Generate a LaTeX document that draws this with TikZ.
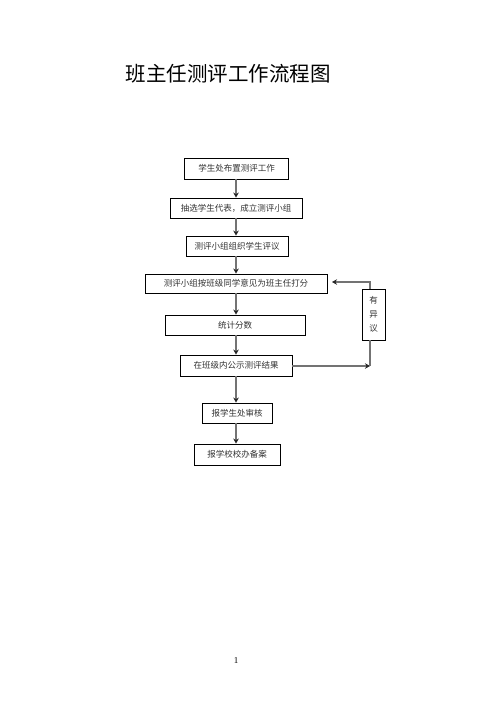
\documentclass[tikz,border=0pt]{standalone}
\usepackage{fontspec}
\setmainfont{Liberation Serif}
\newfontfamily\cjk{Noto Sans CJK SC}
\usetikzlibrary{arrows.meta}
\tikzset{
  box/.style={draw=black, line width=0.9pt, inner sep=0pt, font=\cjk\fontsize{8.5}{10}\selectfont, text=black!80},
  flow/.style={draw=black!55, line width=1.5pt, -{Stealth[length=5pt,width=5.5pt,color=black!85]}},
  plain/.style={draw=black!55, line width=1.5pt}
}
\begin{document}
\begin{tikzpicture}[x=1pt,y=-1pt]
\path[use as bounding box] (0,0) rectangle (496,702);
\fill[white] (0,0) rectangle (496,702);
\node[font=\cjk\fontsize{20.5}{24}\selectfont, anchor=center] (title) at (228,74) {班主任测评工作流程图};
\node[box, minimum width=104pt, minimum height=21pt] (b1) at (236.5,168.5) {学生处布置测评工作};
\node[box, minimum width=132pt, minimum height=20pt] (b2) at (236,208) {抽选学生代表，成立测评小组};
\node[box, minimum width=102pt, minimum height=20pt] (b3) at (237,246) {测评小组组织学生评议};
\node[box, minimum width=182pt, minimum height=19pt] (b4) at (236,283.5) {测评小组按班级同学意见为班主任打分};
\node[box, minimum width=140pt, minimum height=20pt] (b5) at (235,325) {统计分数};
\node[box, minimum width=112pt, minimum height=21pt] (b6) at (236,365.5) {在班级内公示测评结果};
\node[box, minimum width=23pt, minimum height=51pt, align=center, font=\cjk\fontsize{8.5}{14}\selectfont] (b7) at (373.5,314.5) {有\\异\\议};
\node[box, minimum width=70pt, minimum height=20pt] (b8) at (237,413) {报学生处审核};
\node[box, minimum width=86pt, minimum height=21pt] (b9) at (237,454.5) {报学校校办备案};
\node[font=\fontsize{9}{10}\selectfont] (pg) at (236,661) {1};
\coordinate (c1) at (370,366);
\coordinate (c2) at (370,282);
\coordinate (c3) at (332,282);
\draw[flow] (b1.south -| 236,0) -- (b2.north -| 236,0);
\draw[flow] (b2.south -| 236,0) -- (b3.north -| 236,0);
\draw[flow] (b3.south -| 236,0) -- (b4.north -| 236,0);
\draw[flow] (b4.south -| 236,0) -- (b5.north -| 236,0);
\draw[flow] (b5.south -| 236,0) -- (b6.north -| 236,0);
\draw[flow] (b6.south -| 236,0) -- (b8.north -| 236,0);
\draw[flow] (b8.south -| 236,0) -- (b9.north -| 236,0);
\draw[flow] (b6.east |- c1) -- (c1);
\draw[plain] (c1) -- (b7.south -| c1);
\draw[flow] (b7.north -| c1) -- (c2) -- (c3);
\end{tikzpicture}
\end{document}
